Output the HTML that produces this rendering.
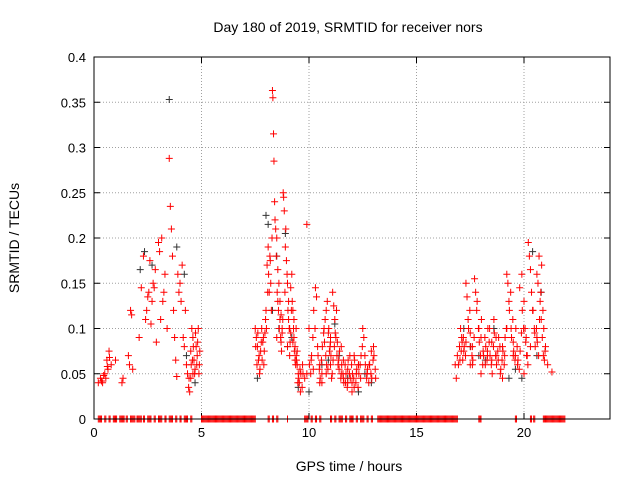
<!DOCTYPE html>
<html><head><meta charset="utf-8"><style>
html,body{margin:0;padding:0;background:#fff;}
svg{display:block;font-family:"Liberation Sans",sans-serif;}
</style></head><body>
<svg id="chart" width="640" height="480" viewBox="0 0 640 480">
<text x="348" y="32" font-size="14" text-anchor="middle">Day 180 of 2019, SRMTID for receiver nors</text>
<text x="349" y="471" font-size="14" text-anchor="middle">GPS time / hours</text>
<text transform="translate(19,238) rotate(-90)" font-size="14" text-anchor="middle">SRMTID / TECUs</text>
<g id="grid"></g><g id="ticks"></g><g id="marks"></g>
<rect x="94" y="57" width="516" height="362" fill="none" stroke="#000" stroke-width="1"/>
</svg>
<script>
const xTicks=[0,5,10,15,20];
const yTicks=[0,0.05,0.1,0.15,0.2,0.25,0.3,0.35,0.4];
const yTickLabels=["0","0.05","0.1","0.15","0.2","0.25","0.3","0.35","0.4"];
const redHours=[0.2,0.3,0.4,0.5,0.6,0.7,0.8,0.65,0.55,1.0,1.3,1.35,1.6,1.65,1.7,1.75,1.8,2.1,2.2,2.3,2.4,2.5,2.55,2.6,2.65,2.7,2.8,2.85,2.9,3.0,3.05,3.1,3.15,3.2,3.3,3.5,3.55,3.6,3.65,3.7,3.75,3.8,3.85,3.9,3.95,4.0,4.1,4.15,4.2,4.3,4.35,4.4,4.45,4.5,4.55,4.6,4.65,4.7,4.75,4.8,4.85,4.9,4.5,4.6,
7.5,7.55,7.6,7.65,7.7,7.75,7.8,7.85,7.9,7.95,8.0,8.05,8.1,8.15,8.2,8.25,8.3,8.32,8.35,8.37,8.4,8.45,8.5,8.55,8.6,8.65,8.7,8.75,8.8,8.82,8.85,8.9,8.95,9.0,9.05,9.1,9.15,9.2,9.25,9.3,9.35,9.4,9.45,9.5,9.55,9.6,9.4,9.3,9.1,9.0,8.7,8.5,9.7,9.8,9.9,
9.9,10.0,10.1,10.2,10.3,10.35,10.4,10.5,10.6,10.7,10.75,10.8,10.85,10.9,10.95,11.0,11.05,11.1,11.15,11.2,11.25,11.3,11.35,11.4,11.5,11.6,11.7,11.8,11.9,12.0,12.1,12.2,12.3,12.4,12.5,12.55,12.6,12.7,12.8,12.9,13.0,13.1,12.0,11.5,10.5,11.0,
16.8,16.9,17.0,17.05,17.1,17.15,17.2,17.3,17.35,17.4,17.5,17.6,17.7,17.75,17.8,17.9,18.0,18.1,18.2,18.3,18.4,18.5,18.6,18.7,18.8,18.9,19.0,19.1,19.2,19.25,19.3,19.4,19.5,19.6,19.7,19.8,19.9,20.0,20.05,20.1,20.15,20.2,20.25,20.3,20.35,20.4,20.5,20.6,20.65,20.7,20.75,20.8,20.85,20.9,20.95,21.0,21.1,21.3,18.0,19.0,17.5,18.5,20.0];
const redValues=[.04,.045,.04,.05,.065,.075,.06,.055,.045,.065,.04,.045,.07,.06,.12,.115,.055,.09,.145,.18,.11,.135,.14,.175,.105,.13,.145,.165,.085,.195,.185,.11,.2,.13,.16,.288,.235,.21,.18,.12,.09,.065,.047,.16,.14,.15,.17,.09,.08,.06,.05,.035,.03,.075,.1,.09,.065,.055,.08,.07,.1,.06,.045,.05,
.1,.09,.08,.065,.05,.075,.1,.085,.06,.095,.12,.17,.19,.14,.175,.12,.363,.355,.315,.285,.24,.21,.2,.165,.15,.13,.115,.1,.25,.245,.23,.19,.175,.15,.13,.1,.145,.16,.12,.09,.08,.07,.06,.05,.04,.03,.1,.11,.07,.08,.085,.09,.06,.045,.05,
.215,.1,.065,.055,.145,.135,.08,.06,.05,.1,.11,.12,.13,.095,.075,.06,.045,.14,.125,.11,.09,.07,.06,.055,.05,.045,.04,.055,.07,.04,.035,.05,.06,.045,.1,.09,.07,.05,.06,.075,.08,.045,.03,.08,.04,.09,
.06,.07,.08,.1,.09,.065,.075,.15,.135,.11,.095,.08,.155,.14,.12,.1,.09,.075,.06,.07,.1,.085,.11,.09,.065,.05,.08,.07,.16,.15,.13,.1,.085,.07,.06,.145,.16,.13,.1,.09,.07,.195,.18,.165,.14,.12,.095,.16,.15,.18,.13,.11,.09,.07,.065,.08,.06,.052,.05,.045,.06,.065,.05];
const red2Hours=[0.35,0.45,0.62,0.72,2.45,2.75,3.25,3.4,4.05,4.25,4.42,4.52,4.62,4.68,4.72,4.78,4.82,4.88,4.92,4.58,
7.52,7.58,7.62,7.68,7.72,7.78,7.82,7.88,7.92,7.98,8.02,8.08,8.12,8.18,8.22,8.28,8.42,8.48,8.52,8.58,8.62,8.68,8.72,8.78,8.88,8.92,8.98,9.02,9.08,9.12,9.18,9.22,9.28,9.32,9.38,9.42,9.48,9.52,9.58,9.62,9.68,9.72,8.55,8.65,8.75,9.05,9.15,9.25,9.35,9.45,
10.02,10.08,10.12,10.18,10.22,10.28,10.42,10.48,10.52,10.58,10.62,10.68,10.72,10.78,10.82,10.88,10.92,10.98,11.02,11.08,11.12,11.18,11.22,11.28,11.32,11.38,11.42,11.48,11.52,11.58,11.62,11.68,11.72,11.78,11.82,11.88,11.92,11.98,12.02,12.08,12.12,12.18,12.22,12.28,12.32,12.38,12.42,12.48,12.62,12.68,12.72,12.78,12.82,12.88,12.92,12.98,13.02,13.08,10.6,10.8,11.0,11.6,11.8,12.1,12.3,12.7,
16.85,16.95,17.02,17.08,17.12,17.18,17.22,17.28,17.42,17.48,17.52,17.58,17.62,17.68,17.82,17.88,17.92,17.98,18.02,18.08,18.12,18.18,18.22,18.28,18.32,18.38,18.42,18.48,18.52,18.58,18.62,18.68,18.72,18.78,18.82,18.88,18.92,18.98,19.02,19.08,19.12,19.18,19.32,19.38,19.42,19.48,19.52,19.58,19.62,19.68,19.72,19.78,19.82,19.88,19.92,19.98,20.08,20.12,20.18,20.42,20.48,20.52,20.58,20.62,20.68,20.72,20.78,20.82,20.88,20.92,20.98,17.3,17.6,18.3,18.7,19.2,19.5,20.3,20.6];
const red2Values=[.042,.048,.058,.068,.12,.15,.14,.1,.13,.12,.045,.06,.08,.05,.095,.06,.085,.05,.075,.065,
.08,.06,.095,.07,.055,.085,.065,.09,.075,.11,.1,.14,.16,.18,.15,.2,.22,.18,.14,.12,.1,.09,.075,.11,.14,.21,.16,.12,.1,.085,.12,.13,.1,.075,.06,.065,.04,.045,.055,.05,.035,.05,.13,.11,.095,.11,.095,.085,.065,.075,
.06,.05,.07,.09,.12,.1,.07,.055,.045,.065,.08,.095,.085,.07,.06,.055,.1,.08,.07,.05,.065,.08,.095,.12,.085,.065,.075,.045,.06,.05,.04,.06,.05,.035,.065,.05,.045,.06,.05,.045,.065,.04,.055,.035,.05,.06,.07,.08,.06,.045,.055,.04,.06,.05,.045,.065,.07,.055,.04,.05,.085,.065,.04,.07,.06,.05,.045,.06,
.065,.075,.085,.09,.08,.07,.1,.12,.08,.07,.065,.09,.13,.1,.085,.07,.11,.06,.07,.09,.08,.065,.1,.085,.07,.06,.05,.08,.095,.07,.06,.075,.09,.08,.055,.065,.075,.06,.09,.1,.12,.14,.09,.11,.075,.065,.1,.08,.065,.055,.075,.095,.12,.1,.085,.07,.06,.12,.1,.08,.1,.085,.07,.11,.14,.17,.12,.1,.075,.085,.06,.075,.07,.1,.07,.08,.09,.05,.06,.06,.13];
const darkHours=[3.5,2.15,2.35,3.85,4.2,2.7,4.3,4.7,7.6,8.0,8.1,8.9,8.5,9.2,9.5,10.0,10.9,11.4,12.3,12.9,11.2,17.2,18.6,19.3,19.9,20.4,20.8,17.9,8.3,8.6,9.0,10.6,11.8,12.6,17.5,18.2,19.6,20.6];
const darkValues=[.353,.165,.185,.19,.16,.17,.07,.04,.045,.225,.215,.205,.18,.09,.035,.03,.065,.07,.03,.04,.105,.1,.1,.045,.045,.185,.14,.07,.12,.1,.08,.06,.045,.05,.08,.065,.055,.07];
const zeroHours=[0.2,0.25,0.3,0.35,0.5,0.55,0.7,0.75,0.9,0.95,1.0,1.05,1.2,1.25,1.3,1.35,1.4,1.5,1.55,1.7,1.75,1.8,1.85,1.9,2.0,2.05,2.1,2.15,2.2,2.3,2.35,2.5,2.55,2.6,2.65,2.8,2.85,3.0,3.05,3.1,3.15,3.3,3.35,3.5,3.55,3.6,3.65,3.8,3.85,4.0,4.05,4.2,4.25,4.3,4.35,4.5,4.55,
5.0,5.05,5.1,5.15,5.2,5.25,5.3,5.35,5.4,5.45,5.5,5.55,5.6,5.65,5.7,5.75,5.8,5.85,5.9,5.95,6.0,6.05,6.1,6.15,6.2,6.25,6.3,6.35,6.4,6.45,6.5,6.55,6.6,6.65,6.7,6.75,6.8,6.85,6.9,6.95,7.0,7.05,7.1,7.15,7.2,7.25,7.3,7.35,7.4,7.45,7.5,
8.1,8.15,8.3,8.35,8.5,8.55,9.0,9.8,9.85,9.9,9.95,10.1,10.15,10.3,10.35,10.5,10.55,
11.0,11.05,11.2,11.25,11.4,11.45,11.5,11.55,11.7,11.75,11.9,11.95,12.0,12.05,12.2,12.25,12.4,12.45,12.5,12.55,12.7,12.75,12.9,12.95,
13.2,13.25,13.3,13.35,13.4,13.45,13.5,13.55,13.6,13.65,13.7,13.75,13.8,13.85,13.9,13.95,14.0,14.05,14.1,14.15,14.2,14.25,14.3,14.35,14.4,14.45,14.5,14.55,14.6,14.65,14.7,14.75,14.8,14.85,14.9,14.95,15.0,15.05,15.1,15.15,15.2,15.25,15.3,15.35,15.4,15.45,15.5,15.55,15.6,15.65,15.7,15.75,15.8,15.85,15.9,15.95,16.0,16.05,16.1,16.15,16.2,16.25,16.3,16.35,16.4,16.45,16.5,16.55,16.6,16.65,16.7,16.75,16.8,16.85,16.9,
17.9,17.95,18.0,19.6,19.65,20.3,20.35,20.45,20.5,20.9,20.95,21.0,21.05,21.1,21.15,21.2,21.25,21.3,21.35,21.4,21.45,21.5,21.55,21.6,21.65,21.7,21.75,21.8,21.85,21.9];

const X0=94,X1=610,Y0=419,Y1=57,XMAX=24,YMAX=0.4;
const xs=h=>X0+h/XMAX*(X1-X0);
const ys=v=>Y0-v/YMAX*(Y0-Y1);
const NS="http://www.w3.org/2000/svg";
function mk(tag,attrs,parent){const e=document.createElementNS(NS,tag);for(const k in attrs)e.setAttribute(k,attrs[k]);document.getElementById(parent).appendChild(e);return e;}
xTicks.forEach(t=>{
  const x=xs(t);
  if(t>0){const g=mk('line',{x1:x,x2:x,y1:Y1,y2:Y0,stroke:'#a0a0a0','stroke-dasharray':'1,2'},'grid');
  
  }
  const tk=mk('path',{d:`M${x},${Y0}v-6M${x},${Y1}v6`,stroke:'#000'},'ticks');
  
  
  const tl=mk('text',{x:x,y:Y0+18,'font-size':13,'text-anchor':'middle'},'ticks');tl.textContent=t;
  
  
});
yTicks.forEach((t,i)=>{
  const y=ys(t);
  if(t>0&&t<YMAX){const g=mk('line',{x1:X0,x2:X1,y1:y,y2:y,stroke:'#a0a0a0','stroke-dasharray':'1,2'},'grid');
  
  }
  const tk=mk('path',{d:`M${X0},${y}h6M${X1},${y}h-6`,stroke:'#000'},'ticks');
  
  
  const tl=mk('text',{x:X0-8,y:y+5,'font-size':13,'text-anchor':'end'},'ticks');tl.textContent=yTickLabels[i];
  
  
});
function cross(h,v,col,name){
  const x=xs(h),y=ys(v);
  const p=mk('path',{d:`M${x-3.5},${y}h7M${x},${y-3.5}v7`,stroke:col,'stroke-width':1},'marks');
  
  
}
darkHours.forEach((h,i)=>cross(h,darkValues[i],'#333333','dark-point'));
redHours.forEach((h,i)=>cross(h,redValues[i],'#ff0000','red-point'));
red2Hours.forEach((h,i)=>cross(h,red2Values[i],'#ff0000','red-point'));
zeroHours.forEach(h=>cross(h,0,'#ff0000','zero-point'));
</script>
</body></html>
